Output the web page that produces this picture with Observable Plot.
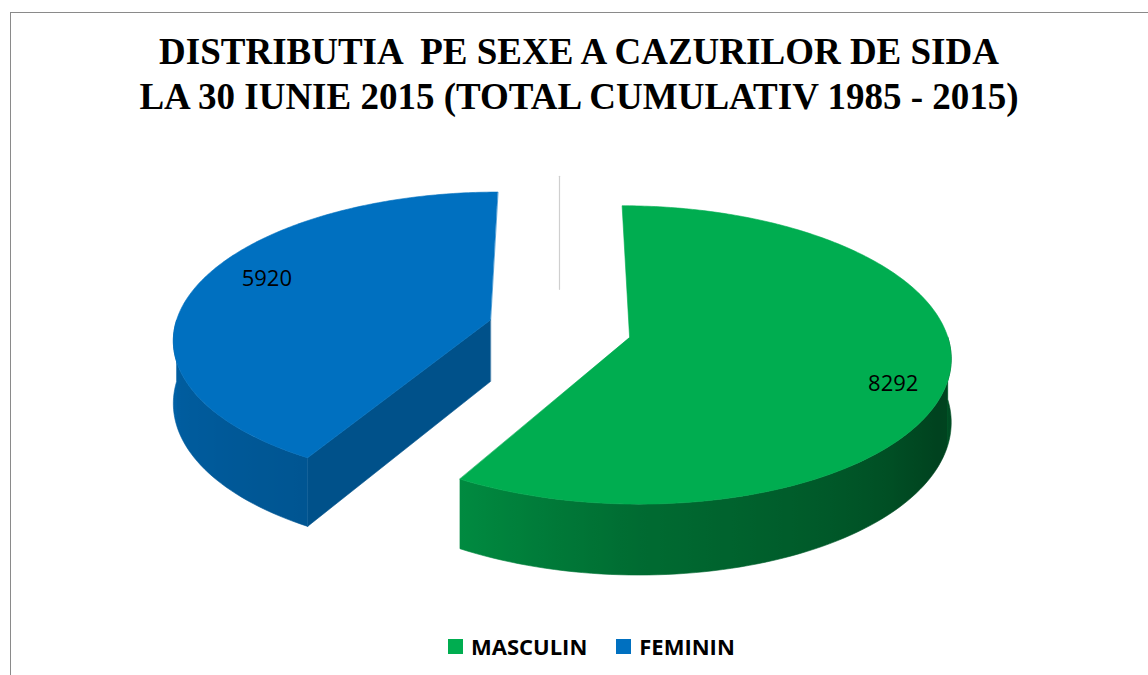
<!DOCTYPE html>
<html>
<head>
<meta charset="utf-8">
<script src="https://cdn.jsdelivr.net/npm/d3@7"></script>
<script src="https://cdn.jsdelivr.net/npm/@observablehq/plot@0.6"></script>
<style>
  html, body { margin: 0; padding: 0; background: #fff; overflow: hidden; }
  #page { position: relative; width: 1148px; height: 675px; overflow: hidden; }
  #frame { position: absolute; left: 10px; top: 12px; width: 1200px; height: 700px;
           border-left: 1.5px solid #8a8a8a; border-top: 1.5px solid #8a8a8a; }
  #title { position: absolute; left: 10px; width: 1138px; top: 29px; text-align: center;
           font-family: "Liberation Serif", "Times New Roman", "DejaVu Serif", serif; font-weight: bold;
           font-size: 37px; line-height: 45px; color: #000; white-space: pre; }
  #chart { position: absolute; left: 0; top: 130px; }
  #legend { position: absolute; left: 448px; top: 631px; display: flex; align-items: center;
            font-family: "Open Sans", "Liberation Sans", sans-serif; font-weight: bold; font-size: 22px; color: #000; }
  .sw { width: 15px; height: 15px; display: inline-block; margin-right: 8px; }
  .item { display: flex; align-items: center; margin-right: 29px; }
</style>
</head>
<body>
<div id="page">
  <div id="frame"></div>
  <div id="title"></div>
  <div id="chart"></div>
  <div id="legend"></div>
</div>
<script>
// ---- data ----
const categories = ["MASCULIN", "FEMININ"];
const values = [8292, 5920];
const titleLines = ["DISTRIBUTIA  PE SEXE A CAZURILOR DE SIDA", "LA 30 IUNIE 2015 (TOTAL CUMULATIV 1985 - 2015)"];

// ---- style ----
const topColors = ["#00AD50", "#0070C0"];
const W = 1148, H = 480;
const geom = { cx: 559, cy: 198, rx: 316, ky: 145, persp: 0.1186, explode: 0.228, depth: 62,
               labelR: [0.83, 0.76], labelDy: [14, -14] };

document.getElementById("title").textContent = titleLines.join("\n");
const legend = document.getElementById("legend");
categories.forEach((c, i) => {
  const it = document.createElement("div"); it.className = "item";
  const sw = document.createElement("span"); sw.className = "sw"; sw.style.background = topColors[i];
  const tx = document.createElement("span"); tx.textContent = c;
  it.appendChild(sw); it.appendChild(tx); legend.appendChild(it);
});

function proj(u, d, z = 0) {
  const s = 1 / (1 - geom.persp * d);
  return [geom.cx + geom.rx * u * s, geom.cy + geom.ky * d * s + z * s];
}
function shade(color, k) { return d3.interpolateRgb(color, "#000")(k); }

// side-wall darkness as function of angle (degrees)
const greenSide = d3.scaleLinear().domain([90, 100, 115, 150, 180, 210]).range([0.50, 0.60, 0.62, 0.48, 0.38, 0.20]).clamp(true);
const blueSide = d3.scaleLinear().domain([210, 270]).range([0.24, 0.14]).clamp(true);
const sideShade = [greenSide, blueSide];

const arcs = d3.pie().sort(null).startAngle(0).endAngle(2 * Math.PI)(values);
const slices = [];
const labels = [];
const gradients = [];
const N = 120;

arcs.forEach((a, i) => {
  const m = (a.startAngle + a.endAngle) / 2;
  const ou = geom.explode * Math.sin(m), od = -geom.explode * Math.cos(m);
  const P = (t, r, z = 0) => proj(ou + r * Math.sin(t), od - r * Math.cos(t), z);
  const col = topColors[i];
  const group = [];
  // outer wall (visible where facing viewer: pi/2..3pi/2), one polygon with a horizontal gradient
  const w0 = Math.max(a.startAngle, Math.PI / 2), w1 = Math.min(a.endAngle, 3 * Math.PI / 2);
  if (w1 > w0) {
    const n = Math.max(8, Math.round(N * (w1 - w0) / Math.PI));
    const topEdge = [], botEdge = [], stops = [];
    for (let k = 0; k <= n; k++) {
      const t = w0 + (w1 - w0) * k / n;
      topEdge.push(P(t, 1));
      botEdge.push(P(t, 1, geom.depth));
      stops.push({ x: P(t, 1)[0], color: shade(col, sideShade[i](t * 180 / Math.PI)) });
    }
    const xs = stops.map(s => s.x);
    const x0 = d3.min(xs), x1 = d3.max(xs);
    const id = "wall" + i;
    gradients.push({ id, x0, x1, stops: stops.map(s => ({ offset: (s.x - x0) / (x1 - x0), color: s.color })).sort((p, q) => p.offset - q.offset) });
    const ring = topEdge.concat(botEdge.reverse());
    ring.push(ring[0]);
    group.push({ fill: `url(#${id})`, ring });
  }
  // radial cut faces
  const face = (t) => ({ fill: shade(col, 0.28), ring: [P(0, 0), P(t, 1), P(t, 1, geom.depth), P(0, 0, geom.depth), P(0, 0)] });
  if (Math.sin(a.startAngle) < -0.01) group.unshift(face(a.startAngle));
  if (Math.sin(a.endAngle) > 0.01) group.unshift(face(a.endAngle));
  // top face
  const ring = [P(0, 0)];
  const n = Math.round(N * 2 * (a.endAngle - a.startAngle) / Math.PI);
  for (let k = 0; k <= n; k++) ring.push(P(a.startAngle + (a.endAngle - a.startAngle) * k / n, 1));
  ring.push(P(0, 0));
  group.push({ fill: col, ring });
  slices.push({ order: i === 0 ? 1 : 0, group });
  const lp = P(m, geom.labelR[i]);
  labels.push({ x: lp[0], y: lp[1] + geom.labelDy[i], text: String(a.data) });
});

slices.sort((p, q) => p.order - q.order);
const features = [];
slices.forEach(p => p.group.forEach(g => features.push({
  type: "Feature", properties: { fill: g.fill }, geometry: { type: "Polygon", coordinates: [g.ring] }
})));

const guide = { type: "Feature", properties: {}, geometry: { type: "LineString",
  coordinates: [[geom.cx, geom.cy - geom.ky * 1.05], [geom.cx, geom.cy - geom.ky * 0.27]] } };

// render-only mark that adds the gradient definitions
function gradientDefs() {
  const defs = d3.create("svg:defs");
  for (const g of gradients) {
    const lg = defs.append("linearGradient").attr("id", g.id).attr("gradientUnits", "userSpaceOnUse")
      .attr("x1", g.x0).attr("x2", g.x1).attr("y1", 0).attr("y2", 0);
    for (const s of g.stops) lg.append("stop").attr("offset", s.offset).attr("stop-color", s.color);
  }
  return defs.node();
}

const chart = Plot.plot({
  width: W, height: H, margin: 0,
  projection: "identity",
  marks: [
    gradientDefs,
    Plot.geo([guide], { stroke: "#cfcfcf", strokeWidth: 1.2 }),
    ...features.map(f => Plot.geo([f], { fill: f.properties.fill, stroke: f.properties.fill, strokeWidth: 0.6 })),
    Plot.text(labels, { x: "x", y: "y", text: "text", fontSize: 22, fill: "#000",
      fontFamily: "'Open Sans', 'Liberation Sans', sans-serif" })
  ]
});
document.getElementById("chart").appendChild(chart);
</script>
</body>
</html>
